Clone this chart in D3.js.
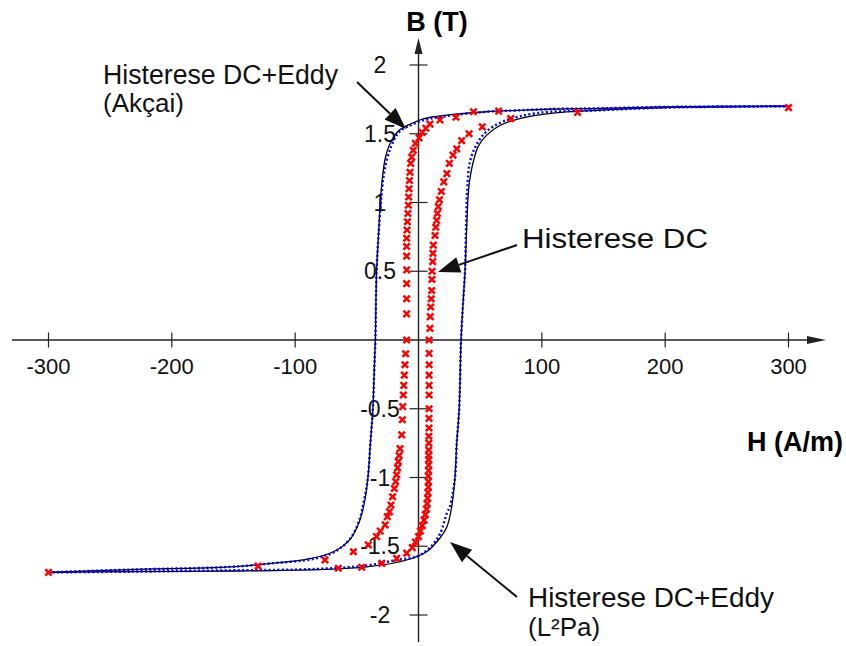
<!DOCTYPE html>
<html>
<head>
<meta charset="utf-8">
<script src="https://cdn.jsdelivr.net/npm/d3@7"></script>
<style>
  html, body { margin: 0; padding: 0; background: #fff; }
  svg { display: block; font-family: "Liberation Sans", Arial, Helvetica, sans-serif; }
</style>
</head>
<body>
<svg id="chart" width="846" height="646"></svg>
<script>
// --- data ------------------------------------------------------------------
const xTicks = [-300, -200, -100, 100, 200, 300];
const yTicks = [2, 1.5, 1, 0.5, -0.5, -1, -1.5, -2];

// Histerese DC+Eddy (L2Pa) : black solid
const l2paDescH = [300, 200, 147, 109, 80, 55, 28, 10, 1, -8, -15, -20, -24, -27, -29, -31, -32.5, -34, -35, -36, -37, -39, -41, -43, -47.5, -55.5, -69, -88, -120, -153, -234, -300];
const l2paDescB = [1.70, 1.695, 1.685, 1.68, 1.67, 1.66, 1.64, 1.62, 1.60, 1.565, 1.53, 1.48, 1.41, 1.32, 1.20, 1.00, 0.75, 0.50, 0.0, -0.25, -0.50, -0.75, -1.0, -1.14, -1.31, -1.45, -1.54, -1.59, -1.625, -1.65, -1.67, -1.69];
const l2paAscH = [-300, -234, -150, -82.5, -42, -9.6, 6.6, 17.4, 23, 27, 28.5, 29.6, 31, 33, 34.5, 36, 37.7, 39, 40.4, 41.8, 44.5, 48.5, 55.3, 66, 82, 109, 144.5, 200, 300];
const l2paAscB = [-1.69, -1.685, -1.68, -1.67, -1.65, -1.60, -1.54, -1.44, -1.36, -1.21, -1.1, -1.0, -0.75, -0.5, 0, 0.25, 0.5, 0.8, 1.07, 1.18, 1.30, 1.41, 1.49, 1.56, 1.61, 1.65, 1.67, 1.69, 1.70];

// Histerese DC+Eddy (Akçai) : blue dotted
const akcaiDescH = [300, 200, 147, 109, 80, 55, 28, 10, 1, -8, -15, -19, -22.5, -26, -28.5, -30.5, -32.5, -34, -35, -36, -37, -39, -41, -44, -48, -55, -66, -84, -120, -153, -234, -300];
const akcaiDescB = [1.70, 1.695, 1.685, 1.68, 1.67, 1.66, 1.635, 1.61, 1.59, 1.555, 1.52, 1.47, 1.40, 1.30, 1.18, 1.00, 0.75, 0.50, 0.0, -0.25, -0.50, -0.75, -1.0, -1.16, -1.31, -1.44, -1.53, -1.59, -1.625, -1.65, -1.67, -1.69];
const akcaiAscH = [-300, -234, -150, -82.5, -42, -17.7, -1.5, 9.3, 17.4, 23, 25.5, 29.6, 31, 33, 34.5, 36, 37.7, 38.5, 39.5, 41.8, 47, 55, 68.8, 96, 144.5, 200, 300];
const akcaiAscB = [-1.69, -1.685, -1.675, -1.665, -1.64, -1.60, -1.575, -1.51, -1.41, -1.26, -1.21, -1.0, -0.75, -0.5, 0, 0.25, 0.5, 0.8, 1.10, 1.30, 1.42, 1.515, 1.59, 1.65, 1.67, 1.69, 1.70];

// Histerese DC : red markers
const dcDescH = [300, 129, 65, 44.6, 30.4, 17.4, 9.3, 6, 3, 0.5, -2.5, -4.2, -5.5, -6.3, -6.9, -7.3, -7.7, -8, -8.2, -8.6, -9, -9.3, -9.6, -9.6, -9.6, -9.6, -9.6, -9.6, -9.6, -9.6, -10.4, -11, -11.5, -11.9, -12.3, -12.8, -13.1, -13.6, -15, -15.7, -16.4, -17, -17.7, -18.5, -19.6, -21, -22.3, -23.5, -25.3, -27, -31, -34, -40.7, -52.8, -75.8, -130, -300];
const dcDescB = [1.69, 1.655, 1.665, 1.66, 1.62, 1.60, 1.57, 1.54, 1.51, 1.47, 1.43, 1.38, 1.33, 1.285, 1.22, 1.16, 1.10, 1.04, 0.98, 0.92, 0.86, 0.80, 0.74, 0.68, 0.61, 0.51, 0.41, 0.30, 0.19, 0.0, -0.1, -0.18, -0.255, -0.33, -0.40, -0.485, -0.58, -0.69, -0.79, -0.84, -0.885, -0.93, -0.98, -1.03, -1.08, -1.14, -1.20, -1.25, -1.285, -1.345, -1.39, -1.43, -1.49, -1.54, -1.60, -1.645, -1.69];
const dcAscH = [-65, -46, -29.8, -17.7, -9.6, -5, -2.5, 0, 1.5, 3, 4.5, 5.5, 6.5, 7, 7.4, 7.7, 8, 8, 8, 8.2, 8.2, 8.2, 8.3, 8.3, 8.4, 8.4, 8.5, 8.5, 8.6, 8.6, 8.6, 8.6, 8.6, 8.6, 8.6, 9.3, 9.5, 9.9, 10.3, 10.7, 10.9, 11, 11.5, 11.7, 12, 13.4, 14, 14.7, 15.3, 16, 17, 18.5, 20.5, 23, 25, 28, 31, 35, 41, 51.7, 74.8];
const dcAscB = [-1.66, -1.653, -1.624, -1.588, -1.55, -1.51, -1.47, -1.43, -1.39, -1.35, -1.31, -1.27, -1.23, -1.19, -1.15, -1.11, -1.07, -1.03, -0.99, -0.95, -0.91, -0.87, -0.84, -0.80, -0.75, -0.70, -0.64, -0.57, -0.50, -0.40, -0.33, -0.255, -0.18, -0.097, 0, 0.085, 0.17, 0.24, 0.30, 0.36, 0.44, 0.50, 0.57, 0.63, 0.69, 0.76, 0.82, 0.87, 0.92, 0.97, 1.02, 1.08, 1.15, 1.21, 1.285, 1.345, 1.39, 1.45, 1.50, 1.55, 1.61];

// annotations (text, left x, baseline y, width on the picture or null)
const notes = [
  { text: 'Histerese DC+Eddy', x: 103, y: 84, w: 235 },
  { text: '(Akçai)', x: 103, y: 112, w: null },
  { text: 'Histerese DC', x: 522, y: 248, w: 186 },
  { text: 'Histerese DC+Eddy', x: 528, y: 607, w: 246 },
  { text: '(L²Pa)', x: 528, y: 636, w: null }
];
const arrows = [
  { from: [357, 82], to: [406, 129] },
  { from: [517, 245], to: [438, 272] },
  { from: [517, 597], to: [450, 542] }
];
// ---------------------------------------------------------------------------
const zip = (hs, bs) => hs.map((h, i) => [h, bs[i]]);

const svg = d3.select('#chart');
const x = d3.scaleLinear().domain([-300, 300]).range([48.5, 788.5]);
const y = d3.scaleLinear().domain([-2, 2]).range([615, 65]);
const axisColor = '#222';

// axes lines -----------------------------------------------------------------
svg.append('line')
  .attr('x1', 12).attr('x2', 812)
  .attr('y1', y(0)).attr('y2', y(0))
  .attr('stroke', axisColor).attr('stroke-width', 1.4);
svg.append('path')
  .attr('d', `M826,${y(0)}L807,${y(0) - 4}L807,${y(0) + 4}Z`)
  .attr('fill', axisColor);
svg.append('line')
  .attr('x1', x(0)).attr('x2', x(0))
  .attr('y1', 52).attr('y2', 642)
  .attr('stroke', axisColor).attr('stroke-width', 1.4);
svg.append('path')
  .attr('d', `M${x(0)},38L${x(0) - 4},54L${x(0) + 4},54Z`)
  .attr('fill', axisColor);

// ticks ------------------------------------------------------------------------
svg.selectAll('.xtick')
  .data(xTicks)
  .enter()
  .append('line')
  .attr('x1', d => x(d)).attr('x2', d => x(d))
  .attr('y1', y(0) - 7.5).attr('y2', y(0) + 7.5)
  .attr('stroke', axisColor).attr('stroke-width', 1.2);
svg.selectAll('.xlabel')
  .data(xTicks)
  .enter()
  .append('text')
  .attr('x', d => x(d))
  .attr('y', y(0) + 34)
  .attr('text-anchor', 'middle')
  .attr('font-size', '22px')
  .attr('fill', '#111')
  .text(d => d);
svg.selectAll('.ytick')
  .data(yTicks)
  .enter()
  .append('line')
  .attr('x1', x(0) - 9).attr('x2', x(0) + 9)
  .attr('y1', d => y(d)).attr('y2', d => y(d))
  .attr('stroke', axisColor).attr('stroke-width', 1.2);
svg.selectAll('.ylabel')
  .data(yTicks)
  .enter()
  .append('text')
  .attr('x', 380)
  .attr('y', d => y(d) + 8)
  .attr('text-anchor', 'middle')
  .attr('font-size', '23px')
  .attr('fill', '#111')
  .text(d => d);

// axis titles ---------------------------------------------------------------------
svg.append('text')
  .attr('x', 437).attr('y', 31)
  .attr('text-anchor', 'middle')
  .attr('font-size', '27px').attr('font-weight', 'bold')
  .text('B (T)');
svg.append('text')
  .attr('x', 843).attr('y', 451)
  .attr('text-anchor', 'end')
  .attr('font-size', '27px').attr('font-weight', 'bold')
  .text('H (A/m)');

// curves ---------------------------------------------------------------------------
const line = d3.line()
  .x(d => x(d[0]))
  .y(d => y(d[1]))
  .curve(d3.curveCatmullRom.alpha(0.5));

[zip(l2paDescH, l2paDescB), zip(l2paAscH, l2paAscB)].forEach(pts => {
  svg.append('path')
    .attr('d', line(pts))
    .attr('fill', 'none')
    .attr('stroke', '#000')
    .attr('stroke-width', 1.3);
});
[zip(akcaiDescH, akcaiDescB), zip(akcaiAscH, akcaiAscB)].forEach(pts => {
  svg.append('path')
    .attr('d', line(pts))
    .attr('fill', 'none')
    .attr('stroke', '#0000f0')
    .attr('stroke-width', 2.4)
    .attr('stroke-dasharray', '2,2.4');
});

// red cross markers --------------------------------------------------------------
const dcPts = zip(dcDescH, dcDescB).concat(zip(dcAscH, dcAscB));
svg.selectAll('.dc-mark')
  .data(dcPts)
  .enter()
  .append('path')
  .attr('class', 'dc-mark')
  .attr('transform', d => `translate(${x(d[0])},${y(d[1])})`)
  .attr('d', 'M-3.2,-3.2L3.2,3.2M3.2,-3.2L-3.2,3.2')
  .attr('stroke', '#ff0000')
  .attr('stroke-width', 2.5)
  .attr('fill', 'none');

// annotations ---------------------------------------------------------------------
const noteText = svg.selectAll('.note')
  .data(notes)
  .enter()
  .append('text')
  .attr('class', 'note')
  .attr('x', d => d.x)
  .attr('y', d => d.y)
  .attr('font-size', d => d.w ? '27px' : '26px')
  .attr('fill', '#111')
  .text(d => d.text);
noteText.filter(d => d.w)
  .attr('textLength', d => d.w)
  .attr('lengthAdjust', 'spacingAndGlyphs');
arrows.forEach(a => {
  const [x1, y1] = a.from;
  const [x2, y2] = a.to;
  const ang = Math.atan2(y2 - y1, x2 - x1);
  const len = 22, half = 8;
  const bx = x2 - len * Math.cos(ang), by = y2 - len * Math.sin(ang);
  svg.append('line')
    .attr('x1', x1).attr('y1', y1)
    .attr('x2', bx).attr('y2', by)
    .attr('stroke', '#111').attr('stroke-width', 2);
  const p1 = [bx + half * Math.sin(ang), by - half * Math.cos(ang)];
  const p2 = [bx - half * Math.sin(ang), by + half * Math.cos(ang)];
  svg.append('path')
    .attr('d', `M${x2},${y2}L${p1[0]},${p1[1]}L${p2[0]},${p2[1]}Z`)
    .attr('fill', '#111');
});
</script>
</body>
</html>
